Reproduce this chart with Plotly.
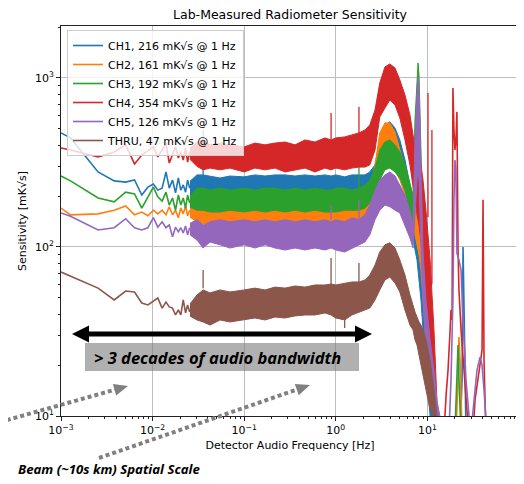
import math
import plotly.graph_objects as go

# ---------------- data ----------------
# sparse (low-frequency) part, Hz
F_SPARSE = [0.001, 0.00127, 0.00254, 0.00381, 0.00508, 0.00635, 0.00762, 0.00889,
            0.0102, 0.0114, 0.0127, 0.0140, 0.0152, 0.0165, 0.0178, 0.0191,
            0.0203, 0.0216, 0.0229, 0.0241, 0.0254]
# dense part: envelope frequencies, Hz
F_BAND = [0.0256, 0.0305, 0.0356, 0.0424, 0.0545, 0.0700, 0.100, 0.131, 0.169, 0.217,
          0.279, 0.359, 0.461, 0.593, 0.762, 0.888, 1.00, 1.25, 1.50, 1.79,
          2.08, 2.35, 2.68, 3.02, 3.44, 3.89, 4.43, 5.00, 5.69, 6.45,
          6.97, 7.32, 7.70, 7.90, 8.10, 8.51, 8.95, 9.65, 10.7, 11.8,
          12.7, 13.7]

NAMES = ["CH1, 216 mK√s @ 1 Hz", "CH2, 161 mK√s @ 1 Hz", "CH3, 192 mK√s @ 1 Hz",
         "CH4, 354 mK√s @ 1 Hz", "CH5, 126 mK√s @ 1 Hz", "THRU, 47 mK√s @ 1 Hz"]
COLORS = ["#1f77b4", "#ff7f0e", "#2ca02c", "#d62728", "#9467bd", "#8c564b"]

# CH1
CH1_LOW = [473, 442, 278, 246, 242, 249, 203, 226, 236, 217, 223, 278, 223, 249, 209, 256, 217, 233, 211, 249, 223]
CH1_HI = [245, 267, 267, 263, 256, 263, 260, 267, 263, 267, 267, 263, 267, 263, 267, 263, 267, 260, 267, 267,
          267, 278, 306, 430, 527, 550, 506, 430, 327, 233, 190, 155, 126, 118, 110, 83.8, 63.8, 42.4, 21.5, 10, 8, 8]
CH1_LO = [205, 192, 190, 190, 190, 185, 185, 190, 185, 190, 185, 190, 185, 190, 190, 190, 190, 185, 190, 190,
          195, 203, 223, 267, 306, 314, 293, 267, 217, 155, 118, 96, 83.8, 73.1, 63.8, 48.6, 32.3, 18.7, 10, 8, 8, 8]
CH1_SPIKE_F = [0.0356]
CH1_SPIKE_BASE = [267]
CH1_SPIKE_TOP = [492]
CH1_HF_F = [22.7, 23.9, 24.5, 25.1, 26.4]
CH1_HF_V = [8, 16.3, 100, 32.3, 8]

# CH2
CH2_LOW = [170, 155, 157, 165, 175, 155, 161, 153, 165, 157, 165, 155, 173, 155, 165, 149, 170, 157, 175, 153, 165]
CH2_HI = [170, 180, 177, 182, 177, 182, 177, 182, 177, 182, 175, 182, 177, 182, 177, 180, 177, 182, 177, 182,
          190, 211, 306, 473, 542, 542, 479, 375, 293, 217, 190, 165, 155, 145, 135, 118, 96, 63.8, 32.3, 16.3, 10, 8]
CH2_LO = [150, 141, 137, 141, 137, 141, 135, 141, 135, 141, 135, 141, 135, 141, 137, 141, 135, 141, 141, 145,
          149, 161, 203, 278, 306, 314, 286, 249, 203, 155, 135, 118, 103, 96, 89.7, 73.1, 48.6, 28.2, 12.4, 10, 8, 8]
CH2_SPIKE_F = []
CH2_SPIKE_BASE = []
CH2_SPIKE_TOP = []
CH2_HF_F = [20.5, 21.6, 22.1, 22.7, 23.9]
CH2_HF_V = [8, 16.3, 29.3, 21.5, 8]

# CH3
CH3_LOW = [263, 246, 195, 185, 211, 206, 170, 198, 226, 198, 187, 211, 177, 195, 165, 203, 177, 195, 170, 203, 182]
CH3_HI = [200, 223, 223, 217, 223, 217, 223, 217, 223, 223, 217, 223, 217, 223, 217, 217, 223, 223, 217, 223,
          233, 249, 293, 375, 418, 430, 402, 365, 306, 233, 203, 564, 1115, 1227, 1042, 327, 126, 63.8, 28.2, 16.3, 10, 8]
CH3_LO = [172, 165, 165, 161, 161, 165, 161, 165, 161, 165, 161, 165, 161, 165, 161, 161, 161, 165, 165, 165,
          170, 182, 203, 249, 286, 293, 278, 256, 217, 161, 141, 190, 327, 375, 327, 145, 73.1, 32.3, 14.3, 10, 8, 8]
CH3_SPIKE_F = [1.79]
CH3_SPIKE_BASE = [217]
CH3_SPIKE_TOP = [375]
CH3_HF_F = [20.0, 21.0, 21.6, 22.1, 23.3]
CH3_HF_V = [8, 16.3, 26.3, 16.3, 8]

# CH4
CH4_LOW = [385, 375, 341, 365, 402, 310, 350, 370, 391, 341, 375, 412, 314, 350, 391, 336, 365, 327, 385, 318, 365]
CH4_HI = [385, 418, 430, 402, 412, 402, 391, 412, 402, 412, 418, 402, 430, 418, 442, 430, 442, 448, 460, 473,
          492, 527, 647, 934, 1162, 1211, 1146, 973, 793, 604, 460, 385, 350, 336, 327, 306, 249, 165, 83.8, 32.3, 12.4, 8]
CH4_LO = [330, 300, 286, 293, 286, 293, 278, 293, 286, 293, 278, 286, 293, 278, 293, 286, 293, 286, 293, 297,
          297, 306, 375, 588, 664, 741, 692, 580, 430, 306, 233, 190, 155, 145, 135, 110, 83.8, 55.7, 24.6, 10, 8, 8]
CH4_SPIKE_F = [0.888, 1.79, 10.15, 11.2]
CH4_SPIKE_BASE = [430, 473, 150, 60]
CH4_SPIKE_TOP = [621, 673, 815, 492]
CH4_HF_F = [13.7, 15.2, 16.0, 16.8, 17.7, 18.1, 18.6, 19.0, 19.5, 20.0, 20.5, 21.0, 21.6, 22.1, 23.3,
            24.5, 25.7, 27.0, 28.5, 31.5, 33.1, 35.7, 37.5, 39.5, 40.5, 41.5, 42.6, 43.6, 48.2]
CH4_HF_V = [8, 8, 13.3, 18.7, 32.3, 42.4, 37.0, 873, 492, 375, 430, 630, 96, 55.7, 32.3,
            21.5, 14.3, 10.9, 8, 8, 12.4, 16.3, 20.0, 24.6, 190, 21.5, 12.4, 8, 8]

# CH5
CH5_LOW = [159, 152, 126, 130, 147, 130, 126, 130, 149, 131, 141, 130, 135, 115, 131, 123, 130, 121, 133, 118, 130]
CH5_HI = [138, 145, 135, 141, 145, 141, 145, 141, 145, 141, 145, 141, 145, 141, 145, 141, 145, 141, 149, 145,
          155, 177, 217, 249, 267, 278, 263, 233, 203, 161, 135, 430, 910, 1014, 910, 286, 96, 48.6, 28.2, 18.7, 12.4, 10]
CH5_LO = [118, 110, 98.6, 107, 103, 98.6, 103, 98.6, 103, 98.6, 96, 98.6, 96, 98.6, 96, 98.6, 96, 93.4, 98.6, 103,
          107, 118, 145, 165, 177, 173, 165, 159, 135, 113, 98.6, 145, 249, 286, 249, 96, 48.6, 24.6, 14.3, 10, 8, 8]
CH5_SPIKE_F = [0.888, 1.79]
CH5_SPIKE_BASE = [145, 145]
CH5_SPIKE_TOP = [177, 190]
CH5_HF_F = [13.7, 17.2, 18.1, 19.0, 19.5, 20.0, 20.5, 21.0, 22.1, 23.3, 24.5, 26.4, 28.5, 29.9, 32.3,
            34.8, 37.5, 39.5, 41.5, 43.6, 45.9]
CH5_HF_V = [8, 8, 16.3, 48.6, 190, 327, 286, 92.1, 83.8, 73.1, 37.0, 16.3, 10, 8, 12.4,
            18.7, 22.3, 20.0, 14.3, 9.5, 8]

# THRU
THRU_LOW = [71.1, 67.3, 57.1, 48.6, 54.9, 54.2, 46.6, 45.4, 47.9, 49.9, 43.5, 47.2, 44.2, 43.5, 39.6, 42.4,
            39.6, 48.6, 40.7, 45.4, 41.3]
THRU_HI = [46.0, 52.0, 55.7, 53.5, 55.7, 54.2, 55.7, 57.1, 55.7, 57.9, 57.1, 58.8, 57.9, 59.6, 59.6, 60.4,
           59.6, 61.2, 62.1, 62.1, 63.8, 68.2, 78.2, 93.4, 103, 106, 98.6, 83.8, 68.2, 52.0, 44.2, 41.3,
           38.5, 37.0, 36.0, 34.5, 32.3, 28.2, 21.5, 14.3, 10, 8]
THRU_LO = [39.0, 37.0, 36.0, 34.5, 37.0, 36.0, 37.0, 38.0, 37.0, 38.5, 38.0, 39.1, 39.6, 39.6, 40.7, 39.6,
           38.0, 37.0, 39.6, 40.7, 42.4, 43.5, 48.6, 55.7, 63.8, 66.4, 61.2, 54.2, 42.4, 34.5, 32.3, 28.2,
           26.3, 24.6, 23.0, 20.0, 17.5, 14.3, 10.9, 10, 8, 8]
THRU_SPIKE_F = [0.0356, 0.888, 1.79, 1.25]
THRU_SPIKE_BASE = [57, 60, 62, 39]
THRU_SPIKE_TOP = [73.1, 86.0, 80.4, 33.2]
THRU_HF_F = []
THRU_HF_V = []

X_TICKS = [1e-3, 1e-2, 1e-1, 1, 10, 100]
X_TICKTEXT = ["10<sup>−3</sup>", "10<sup>−2</sup>", "10<sup>−1</sup>", "10<sup>0</sup>",
              "10<sup>1</sup>", "10<sup>2</sup>"]
Y_TICKS = [10, 100, 1000]
Y_TICKTEXT = ["10<sup>1</sup>", "10<sup>2</sup>", "10<sup>3</sup>"]

SERIES = [
    (CH1_LOW, CH1_HI, CH1_LO, CH1_SPIKE_F, CH1_SPIKE_BASE, CH1_SPIKE_TOP, CH1_HF_F, CH1_HF_V),
    (CH2_LOW, CH2_HI, CH2_LO, CH2_SPIKE_F, CH2_SPIKE_BASE, CH2_SPIKE_TOP, CH2_HF_F, CH2_HF_V),
    (CH3_LOW, CH3_HI, CH3_LO, CH3_SPIKE_F, CH3_SPIKE_BASE, CH3_SPIKE_TOP, CH3_HF_F, CH3_HF_V),
    (CH4_LOW, CH4_HI, CH4_LO, CH4_SPIKE_F, CH4_SPIKE_BASE, CH4_SPIKE_TOP, CH4_HF_F, CH4_HF_V),
    (CH5_LOW, CH5_HI, CH5_LO, CH5_SPIKE_F, CH5_SPIKE_BASE, CH5_SPIKE_TOP, CH5_HF_F, CH5_HF_V),
    (THRU_LOW, THRU_HI, THRU_LO, THRU_SPIKE_F, THRU_SPIKE_BASE, THRU_SPIKE_TOP, THRU_HF_F, THRU_HF_V),
]

# ---------------- figure ----------------
OFF = 8                      # page body margin of the html page
W, H = 516, 476
ML, MR, MT, MB = 53, 5, 18, 68
PW, PH = W - ML - MR, H - MT - MB

fig = go.Figure()

for i, (low, hi, lo, sf, sb, st, hf, hv) in enumerate(SERIES):
    c = COLORS[i]
    g = "s%d" % i
    fig.add_trace(go.Scatter(x=F_SPARSE, y=low, mode="lines", name=NAMES[i],
                             line=dict(color=c, width=1.6), legendgroup=g))
    fig.add_trace(go.Scatter(x=F_BAND + F_BAND[::-1], y=hi + lo[::-1], mode="lines",
                             fill="toself", fillcolor=c, line=dict(color=c, width=1),
                             showlegend=False, legendgroup=g, hoverinfo="skip"))
    if sf:
        xs, ys = [], []
        for f, b, t in zip(sf, sb, st):
            xs += [f, f, None]
            ys += [b, t, None]
        fig.add_trace(go.Scatter(x=xs, y=ys, mode="lines", line=dict(color=c, width=1.3),
                                 showlegend=False, legendgroup=g, hoverinfo="skip"))
    if hf:
        fig.add_trace(go.Scatter(x=hf, y=hv, mode="lines", line=dict(color=c, width=1.6),
                                 showlegend=False, legendgroup=g, hoverinfo="skip"))


def P(px, py):
    """page pixel -> paper coordinates"""
    return ((px - OFF - ML) / PW, (OFF + H - MB - py) / PH)


def tri(tip, base_c, half):
    dx, dy = tip[0] - base_c[0], tip[1] - base_c[1]
    L = math.hypot(dx, dy)
    nx, ny = -dy / L * half, dx / L * half
    pts = [tip, (base_c[0] + nx, base_c[1] + ny), (base_c[0] - nx, base_c[1] - ny)]
    s = ""
    for k, (a, b) in enumerate(pts):
        u, v = P(a, b)
        s += ("M" if k == 0 else "L") + " %.5f %.5f " % (u, v)
    return s + "Z"


def dotted_arrow(start, tip, head_len=14, half=6, color="#808080"):
    dx, dy = tip[0] - start[0], tip[1] - start[1]
    L = math.hypot(dx, dy)
    ux, uy = dx / L, dy / L
    base_c = (tip[0] - ux * head_len, tip[1] - uy * head_len)
    x0, y0 = P(*start)
    x1, y1 = P(base_c[0] + ux * 1, base_c[1] + uy * 1)
    fig.add_shape(type="line", xref="paper", yref="paper", x0=x0, y0=y0, x1=x1, y1=y1,
                  line=dict(color=color, width=4, dash="4px,3px"), layer="above")
    fig.add_shape(type="path", xref="paper", yref="paper", path=tri(tip, base_c, half),
                  fillcolor=color, line=dict(width=0), layer="above")


# black double arrow
ya = 334
x0, y0 = P(86, ya)
x1, _ = P(358, ya)
fig.add_shape(type="line", xref="paper", yref="paper", x0=x0, y0=y0, x1=x1, y1=y0,
              line=dict(color="black", width=5), layer="above")
fig.add_shape(type="path", xref="paper", yref="paper", path=tri((72, ya), (89, ya), 8.5),
              fillcolor="black", line=dict(width=0), layer="above")
fig.add_shape(type="path", xref="paper", yref="paper", path=tri((372, ya), (355, ya), 8.5),
              fillcolor="black", line=dict(width=0), layer="above")

# gray box
bx0, by0 = P(85, 371)
bx1, by1 = P(359, 343)
fig.add_shape(type="rect", xref="paper", yref="paper", x0=bx0, y0=by0, x1=bx1, y1=by1,
              fillcolor="rgba(128,128,128,0.62)", line=dict(width=0), layer="above")
tx, ty = P(92, 357)
fig.add_annotation(xref="paper", yref="paper", x=tx, y=ty, xanchor="left", yanchor="middle",
                   text="<b><i>&gt; 3 decades of audio bandwidth</i></b>", showarrow=False,
                   font=dict(family="Open Sans", size=16.5, color="black"))

# dotted arrows
dotted_arrow((0, 422), (128, 386))
dotted_arrow((99, 458), (310, 385))

bx, byy = P(16, 469)
fig.add_annotation(xref="paper", yref="paper", x=bx, y=byy, xanchor="left", yanchor="middle",
                   text="<b><i>Beam (~10s km) Spatial Scale</i></b>", showarrow=False,
                   font=dict(family="Open Sans", size=13.2, color="black"))

MINOR_X = [m * 10 ** e for e in range(-3, 2) for m in range(2, 10)]
MINOR_Y = [m * 10 ** e for e in range(1, 4) for m in range(2, 10) if m * 10 ** e < 2030]

axis_common = dict(type="log", showline=True, mirror=True, linecolor="#222", linewidth=1,
                   ticks="outside", ticklen=4, tickcolor="#222", tickwidth=1,
                   showgrid=True, gridcolor="#bdbdbd", gridwidth=1.4,
                   tickfont=dict(family="DejaVu Sans", size=11, color="black"), zeroline=False)

fig.update_xaxes(range=[-3, 2], tickmode="array", tickvals=X_TICKS, ticktext=X_TICKTEXT,
                 minor=dict(tickmode="array", tickvals=MINOR_X, ticks="outside", ticklen=2,
                            tickcolor="#222", showgrid=False),
                 title=dict(text="Detector Audio Frequency [Hz]", standoff=5,
                            font=dict(family="DejaVu Sans", size=11, color="black")),
                 **axis_common)
fig.update_yaxes(range=[1, math.log10(2030)], tickmode="array", tickvals=Y_TICKS, ticktext=Y_TICKTEXT,
                 minor=dict(tickmode="array", tickvals=MINOR_Y, ticks="outside", ticklen=2,
                            tickcolor="#222", showgrid=False),
                 title=dict(text="Sensitivity [mK√s]", standoff=6,
                            font=dict(family="DejaVu Sans", size=11, color="black")),
                 **axis_common)

lx, ly = P(67, 30)
fig.update_layout(
    width=W, height=H,
    margin=dict(l=ML, r=MR, t=MT, b=MB, autoexpand=False),
    paper_bgcolor="white", plot_bgcolor="white",
    font=dict(family="DejaVu Sans", size=11, color="black"),
    title=dict(text="Lab-Measured Radiometer Sensitivity", x=0.5, xref="paper", xanchor="center",
               y=1 - 7 / H, yref="container", yanchor="middle",
               font=dict(family="DejaVu Sans", size=12.5, color="black")),
    legend=dict(x=lx, y=ly, xanchor="left", yanchor="top",
                bgcolor="rgba(255,255,255,0.8)", bordercolor="#cccccc", borderwidth=1,
                font=dict(family="DejaVu Sans", size=11, color="black"), tracegroupgap=0),
    showlegend=True,
)

fig.write_html("out.html")
